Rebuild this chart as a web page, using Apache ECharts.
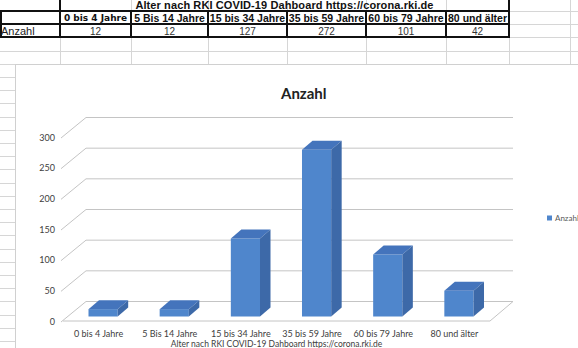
<!DOCTYPE html>
<html>
<head>
<meta charset="utf-8">
<script src="https://cdn.jsdelivr.net/npm/echarts@6/dist/echarts.min.js"></script>
<style>
  html, body { margin:0; padding:0; background:#fff; }
  #page { position:relative; width:578px; height:348px; overflow:hidden; background:#fff; font-family:"Liberation Sans", Arial, sans-serif; }
  .hl { position:absolute; height:1px; background:#d6d6d6; }
  .vl { position:absolute; width:1px; background:#d6d6d6; }
  .bh { position:absolute; height:2px; background:#111; }
  .bv { position:absolute; width:2px; background:#111; }
  .cell { position:absolute; display:flex; align-items:center; justify-content:center; white-space:nowrap; color:#111; }
  #chartArea { position:absolute; left:15px; top:64px; width:563px; height:284px; background:#fff; border-left:1px solid #d0d0d0; border-top:1px solid #d0d0d0; box-sizing:border-box; }
  #main { position:absolute; left:0; top:0; width:578px; height:348px; }
</style>
</head>
<body>
<div id="page">
  <div id="sheet"></div>
  <div id="chartArea"></div>
  <div id="main"></div>
</div>
<script>
// ---- data ----
var tableTitle = 'Alter nach RKI COVID-19 Dahboard https://corona.rki.de';
var categories = ['0 bis 4 Jahre', '5 Bis 14 Jahre', '15 bis 34 Jahre', '35 bis 59 Jahre', '60 bis 79 Jahre', '80 und älter'];
var rowLabel = 'Anzahl';
var values = [12, 12, 127, 272, 101, 42];
var yTicks = [0, 50, 100, 150, 200, 250, 300];
var chartTitle = 'Anzahl';
var seriesName = 'Anzahl';
var axisTitle = 'Alter nach RKI COVID-19 Dahboard https://corona.rki.de';

// ---- spreadsheet background (HTML) ----
var sheet = document.getElementById('sheet');
function add(cls, style, text) {
  var d = document.createElement('div');
  d.className = cls;
  for (var k in style) d.style[k] = style[k];
  if (text !== undefined) d.textContent = text;
  sheet.appendChild(d);
  return d;
}
var colX = [0, 60, 131, 208, 287, 366, 446, 509, 570];
for (var y = 11; y < 348; y += 13.2) {
  var yy = Math.round(y);
  add('hl', { left: '0px', top: yy + 'px', width: (yy < 64 ? 578 : 15) + 'px' });
}
for (var i = 1; i < colX.length; i++) {
  add('vl', { left: colX[i] + 'px', top: '0px', height: '64px' });
}
add('bv', { left: '59px', top: '0px', height: '38px' });
[131, 208, 287, 366, 446].forEach(function (x) { add('bv', { left: (x - 1) + 'px', top: '11px', height: '27px' }); });
add('bv', { left: '508px', top: '0px', height: '38px' });
add('bh', { left: '0px', top: '10px', width: '510px' });
add('bh', { left: '0px', top: '23px', width: '510px' });
add('bh', { left: '0px', top: '36px', width: '510px' });
add('bv', { left: '0px', top: '11px', height: '27px' });
add('cell', { left: '60px', top: '-1px', width: '449px', height: '12px', fontWeight: 'bold', fontSize: '11px', letterSpacing: '0.1px' }, tableTitle);
categories.forEach(function (c, i) {
  var st = { left: colX[i + 1] + 'px', top: '12px', width: (colX[i + 2] - colX[i + 1]) + 'px', height: '12px', fontWeight: 'bold', fontSize: '10.5px' };
  if (i === 0) { st.fontFamily = '"DejaVu Sans", Verdana, sans-serif'; st.fontSize = '9px'; }
  add('cell', st, c);
  add('cell', { left: colX[i + 1] + 'px', top: '25px', width: (colX[i + 2] - colX[i + 1]) + 'px', height: '12px', fontSize: '10px', color: '#333' }, String(values[i]));
});
add('cell', { left: '1px', top: '25px', height: '12px', fontSize: '11px', justifyContent: 'flex-start', color: '#222' }, rowLabel);

// ---- chart ----
var chart = echarts.init(document.getElementById('main'), null, { renderer: 'svg' });
var DX = 23, DY = -19.5;
var BDX = 10.5, BDY = -9;
var BOX = 4.5, BOY = -4.5;
var font = 'Lato, "Open Sans", sans-serif';

chart.setOption({
  backgroundColor: 'transparent',
  animation: false,
  title: {
    text: chartTitle, left: 276, top: 80,
    textStyle: { fontFamily: font, fontSize: 15, fontWeight: 'bold', color: '#222' }
  },
  legend: {
    data: [seriesName], left: 542, top: 209, icon: 'rect', itemWidth: 5, itemHeight: 5, itemGap: 4,
    textStyle: { fontFamily: font, fontSize: 8, color: '#595959', padding: [0, 0, 0, -2] }
  },
  grid: { left: 63, right: 88, top: 137, bottom: 27, containLabel: false, outerBoundsMode: 'none' },
  xAxis: {
    type: 'category', data: categories,
    axisLine: { show: false }, axisTick: { show: false },
    axisLabel: { fontFamily: font, fontSize: 9, color: '#404040', margin: 7, interval: 0, lineHeight: 10 },
    name: axisTitle, nameLocation: 'middle', nameGap: 18, nameMoveOverlap: false,
    nameTextStyle: { fontFamily: font, fontSize: 8.5, color: '#404040', verticalAlign: 'top', lineHeight: 9 }
  },
  yAxis: {
    type: 'value', min: yTicks[0], max: yTicks[yTicks.length - 1], interval: yTicks[1] - yTicks[0],
    axisLine: { show: false }, axisTick: { show: false }, splitLine: { show: false },
    axisLabel: { fontFamily: font, fontSize: 9, color: '#404040', margin: 8 }
  },
  series: [
    {
      type: 'custom', name: '_grid', silent: true, z: 1,
      data: yTicks.map(function (v) { return [0, v]; }),
      encode: { x: 0, y: 1 },
      renderItem: function (params, api) {
        var cs = params.coordSys;
        var y = api.coord([0, api.value(1)])[1];
        var x0 = cs.x, x1 = cs.x + cs.width;
        var style = { stroke: '#c4c4c4', lineWidth: 1, fill: null };
        var children = [{
          type: 'polyline', shape: { points: [[x0 - 2, y + 1], [x0 + DX, y + DY], [x1 + DX, y + DY]] }, style: style
        }];
        if (api.value(1) === 0) {
          children.push({ type: 'polyline', shape: { points: [[x0, y], [x1, y], [x1 + DX, y + DY]] }, style: style });
        }
        return { type: 'group', children: children };
      }
    },
    {
      type: 'custom', name: seriesName, z: 2,
      itemStyle: { color: '#4f86cc' },
      data: values.map(function (v, i) { return [i, v]; }),
      encode: { x: 0, y: 1 },
      renderItem: function (params, api) {
        var i = api.value(0), v = api.value(1);
        var top = api.coord([i, v]);
        var base = api.coord([i, 0]);
        var bw = api.size([1, 0])[0] * 0.41;
        var x0 = top[0] - bw / 2 + BOX, x1 = x0 + bw;
        var yT = top[1] + BOY, yB = base[1] + BOY;
        return {
          type: 'group',
          children: [
            { type: 'rect', shape: { x: x0, y: yT, width: bw, height: yB - yT }, style: { fill: '#4f86cc' } },
            { type: 'polygon', shape: { points: [[x0, yT], [x1, yT], [x1 + BDX, yT + BDY], [x0 + BDX, yT + BDY]] }, style: { fill: '#4474bc' } },
            { type: 'polygon', shape: { points: [[x1, yT], [x1 + BDX, yT + BDY], [x1 + BDX, yB + BDY], [x1, yB]] }, style: { fill: '#3d69a8' } }
          ]
        };
      }
    }
  ]
});
</script>
</body>
</html>
